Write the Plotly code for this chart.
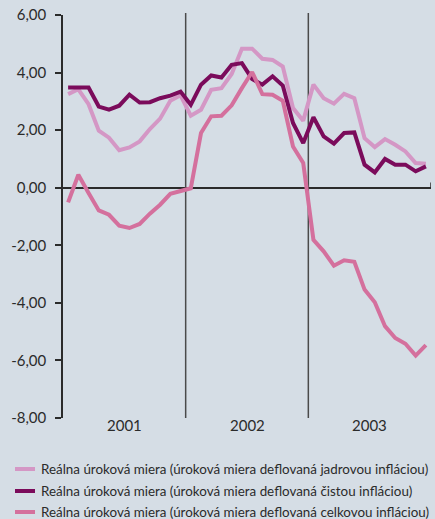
import plotly.graph_objects as go

months = list(range(36))
years = ["2001", "2002", "2003"]

core = [3.25, 3.42, 2.90, 1.98, 1.74, 1.30, 1.40, 1.61, 2.04, 2.40, 3.02, 3.21,
        2.50, 2.71, 3.40, 3.46, 3.95, 4.83, 4.83, 4.48, 4.44, 4.21, 2.77, 2.33,
        3.58, 3.11, 2.92, 3.26, 3.11, 1.72, 1.41, 1.69, 1.49, 1.26, 0.86, 0.83]
net = [3.48, 3.48, 3.48, 2.82, 2.71, 2.85, 3.23, 2.96, 2.97, 3.11, 3.20, 3.34,
       2.88, 3.58, 3.90, 3.83, 4.27, 4.33, 3.78, 3.58, 3.87, 3.55, 2.25, 1.55,
       2.45, 1.78, 1.53, 1.90, 1.92, 0.80, 0.53, 1.00, 0.80, 0.80, 0.57, 0.74]
headline = [-0.51, 0.45, -0.18, -0.79, -0.94, -1.32, -1.40, -1.26, -0.90, -0.59, -0.21, -0.10,
            -0.02, 1.90, 2.48, 2.50, 2.86, 3.46, 4.02, 3.25, 3.23, 3.02, 1.43, 0.86,
            -1.81, -2.21, -2.71, -2.52, -2.57, -3.54, -3.98, -4.81, -5.22, -5.42, -5.83, -5.47]

names = [
    "Reálna úroková miera (úroková miera deflovaná jadrovou infláciou)",
    "Reálna úroková miera (úroková miera deflovaná čistou infláciou)",
    "Reálna úroková miera (úroková miera deflovaná celkovou infláciou)",
]
colors = ["#d497c5", "#7b0b5b", "#d4709d"]

y_ticks = [6, 4, 2, 0, -2, -4, -6, -8]
y_labels = ["6,00", "4,00", "2,00", "0,00", "-2,00", "-4,00", "-6,00", "-8,00"]

W, H = 435, 519
ML, MR, MT, MB = 63, 4, 15, 101
PW, PH = W - ML - MR, H - MT - MB


def px_x(p):
    return (p - ML) / PW


def px_y(p):
    return (H - MB - p) / PH


x = [m + 0.5 for m in months]
fig = go.Figure()
for series, name, col in zip([core, net, headline], names, colors):
    fig.add_trace(go.Scatter(x=x, y=series, mode="lines", name=name,
                             line=dict(color=col, width=4), showlegend=False))

bg = "#d5dde5"
fig.update_layout(
    width=W, height=H,
    paper_bgcolor=bg, plot_bgcolor=bg,
    margin=dict(l=ML, r=MR, t=MT, b=MB, autoexpand=False),
    font=dict(family="Lato", size=15, color="#2b2b2b"),
    showlegend=False,
    xaxis=dict(range=[0, 36], showgrid=False, zeroline=False, showticklabels=False,
               showline=False, ticks=""),
    yaxis=dict(range=[-8, 6], tickvals=y_ticks, ticktext=y_labels,
               showgrid=False, showline=True, linecolor="#2b2b2b", linewidth=1.5,
               ticks="outside", ticklen=6, tickwidth=1.5, tickcolor="#2b2b2b",
               ticklabelstandoff=6,
               zeroline=True, zerolinecolor="#2b2b2b", zerolinewidth=1.5),
)

for xv in [12, 24]:
    fig.add_shape(type="line", xref="x", yref="paper", x0=xv, x1=xv, y0=0, y1=1.005,
                  line=dict(color="#4a4a4a", width=1.5), layer="below")

# small end tick on the zero line at the right edge
fig.add_shape(type="line", xref="x", yref="y", x0=36, x1=36, y0=0, y1=0.18,
              line=dict(color="#2b2b2b", width=1.5))

for i, yr in enumerate(years):
    fig.add_annotation(x=i * 12 + 6, y=0, xref="x", yref="paper", text=yr,
                       showarrow=False, yanchor="top", yshift=4,
                       font=dict(size=15, color="#2b2b2b"))

# legend drawn manually (short line samples like the reference)
legend_rows = [469, 491, 512]
for name, col, row in zip(names, colors, legend_rows):
    fig.add_shape(type="line", xref="paper", yref="paper",
                  x0=px_x(15), x1=px_x(35), y0=px_y(row), y1=px_y(row),
                  line=dict(color=col, width=4))
    fig.add_annotation(x=px_x(39), y=px_y(row), xref="paper", yref="paper",
                       text=name, showarrow=False, xanchor="left", yanchor="middle",
                       font=dict(size=13.4, color="#2b2b2b"))

fig.write_html(
    "out.html",
    config={"displayModeBar": False},
    post_script="document.body.style.margin='0';document.body.style.background='#d5dde5';",
)
